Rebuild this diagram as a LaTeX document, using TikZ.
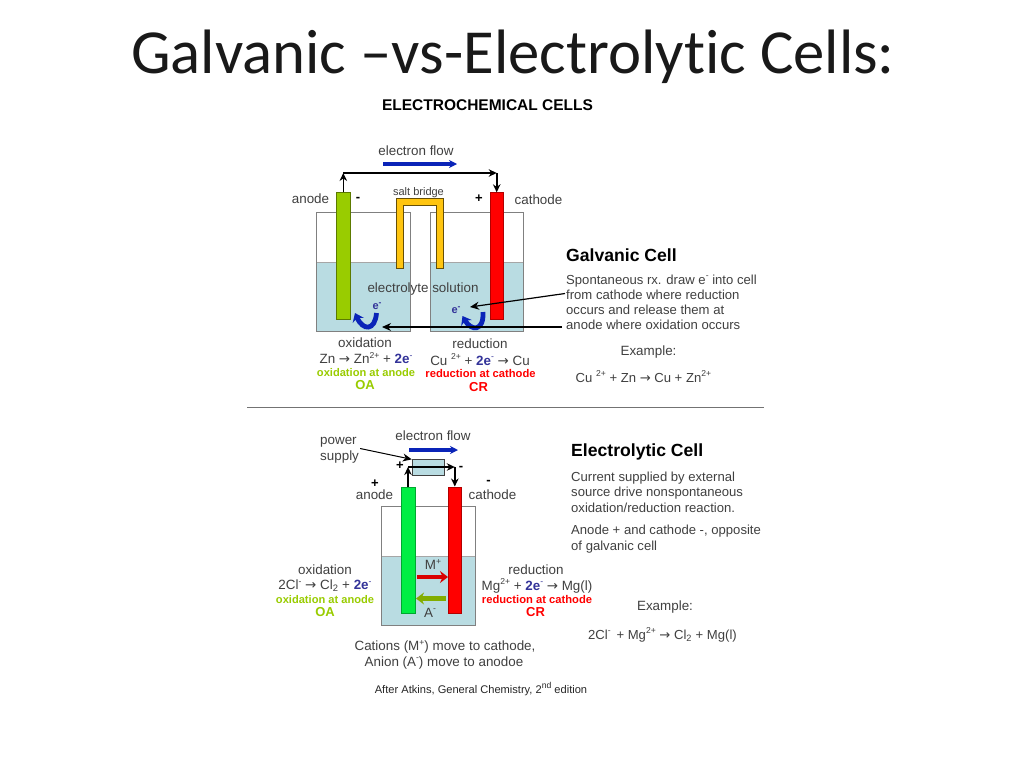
\documentclass[tikz,border=0pt]{standalone}
\usepackage{fontspec}
\setmainfont{Liberation Sans}
\newfontfamily\titlefont[RawFeature={-liga;-dlig;-clig}]{Carlito}
\newfontfamily\arrowfont{DejaVu Sans}
\usetikzlibrary{arrows.meta}
\definecolor{liquid}{HTML}{B9DCE2}
\definecolor{tankedge}{HTML}{808080}
\definecolor{txtgray}{HTML}{404040}
\definecolor{oagreen}{HTML}{99CC00}
\definecolor{rodgreen}{HTML}{00EE44}
\definecolor{goldbar}{HTML}{FFC510}
\definecolor{eblue}{HTML}{333399}
\definecolor{flowblue}{HTML}{0A24B8}
\newcommand{\fs}[1]{\fontsize{#1}{#1}\selectfont}
\newcommand{\up}[1]{\raisebox{0.42em}{\fontsize{8.6}{8.6}\selectfont #1}}
\newcommand{\twoe}{\textcolor{eblue}{\textbf{2e}}\up{\textcolor{eblue}{-}}}
\newcommand{\arr}{{\arrowfont →}}
\tikzset{
  txt/.style={inner sep=0pt,text=txtgray,font=\fs{13.4},align=center},
  para/.style={inner sep=0pt,text=txtgray,font=\fs{13.1},align=left,anchor=west},
  head/.style={inner sep=0pt,text=black,font=\fs{17.6}\bfseries,anchor=west},
  sign/.style={inner sep=0pt,text=black,font=\fs{13}\bfseries},
  oxlab/.style={inner sep=0pt,text=oagreen,font=\fs{11.1}\bfseries},
  redlab/.style={inner sep=0pt,text=red,font=\fs{11.2}\bfseries},
  oxbig/.style={inner sep=0pt,text=oagreen,font=\fs{13}\bfseries},
  redbig/.style={inner sep=0pt,text=red,font=\fs{13}\bfseries},
  elec/.style={inner sep=0pt,text=eblue,font=\fs{11}\bfseries},
  rod/.style={draw=black!55!green,line width=0.5pt,inner sep=0pt,minimum width=13.5pt,minimum height=126.5pt},
  wire/.style={draw=black,line width=1.6pt,-{Stealth[length=8pt,width=7.5pt]}},
  plainline/.style={draw=black,line width=1.2pt,-{Stealth[length=9pt,width=8pt]}},
  flow/.style={draw=flowblue,line width=3.4pt,-{Stealth[length=8pt,width=8pt]}},
  tank/.style={draw=tankedge,line width=1pt},
  curl/.style={draw=flowblue,line width=4.8pt,-{Stealth[length=8pt,width=12pt]}},
  block/.style={line width=4.6pt,-{Stealth[length=8pt,width=12pt]}},
}
\begin{document}
\begin{tikzpicture}[x=1pt,y=-1pt]
\useasboundingbox (0,0) rectangle (1024,768);
\fill[white] (0,0) rectangle (1024,768);

\node[inner sep=0pt,font=\titlefont\fs{62.7},text=black!90] (title) at (513,56.5) {Galvanic –vs-Electrolytic Cells:};
\node[inner sep=0pt,font=\fs{15.5}\bfseries,text=black] (heading) at (487.5,105.5) {ELECTROCHEMICAL CELLS};

% ---- Galvanic tanks
\fill[liquid] (316.7,262) rectangle (410,331);
\fill[liquid] (430,262) rectangle (523.3,331);
\draw[tank,draw=tankedge!70] (316.7,262) -- (410,262) (430,262) -- (523.3,262);
\draw[tank] (316.7,212) rectangle (410,331);
\draw[tank] (430,212) rectangle (523.3,331);

% salt bridge
\path[fill=goldbar,draw=black!60!goldbar,line width=0.5pt]
  (396.3,268) -- (396.3,198.7) -- (443.7,198.7) -- (443.7,268) -- (436.3,268) -- (436.3,205.3) -- (403.5,205.3) -- (403.5,268) -- cycle;

% electrodes
\node[rod,fill=oagreen,draw=black!40!oagreen] (anodeA) at (343.3,255.8) {};
\node[rod,fill=red,draw=red!70!black] (cathodeA) at (496.7,255.8) {};

% wire
\coordinate (cornerLA) at (343.3,173);
\coordinate (cornerRA) at (496.7,173);
\draw[wire] (anodeA.north) -- (cornerLA);
\draw[wire] (cornerLA) -- (cornerRA);
\draw[wire] (cornerRA) -- (cathodeA.north);

% electron flow
\node[txt] (flowA) at (416,150.5) {electron flow};
\coordinate (flowAs) at (383,164);
\coordinate (flowAe) at (457,164);
\draw[flow] (flowAs) -- (flowAe);

\node[txt] (anodeAl) at (310.5,198.5) {anode};
\node[sign] (minusA) at (358,199.5) {-};
\node[txt,font=\fs{11}] (saltl) at (418.5,192.5) {salt bridge};
\node[sign] (plusA) at (479,199) {+};
\node[txt] (cathodeAl) at (538.5,200) {cathode};
\node[txt] (electrolyte) at (423,289) {electrolyte solution};

\node[elec] (eL) at (377,306) {e\up{-}};
\node[elec] (eR) at (456,310) {e\up{-}};

% curved electron arrows
\coordinate (cLs) at (376.5,313);
\coordinate (cLe) at (355,313);
\coordinate (cRs) at (483,312);
\coordinate (cRe) at (462.5,316);
\draw[curl] (cLs) .. controls (375,331) and (363,331) .. (cLe);
\draw[curl] (cRs) .. controls (484,332) and (471,331) .. (cRe);

% text galvanic
\node[txt] (oxA) at (365,342.5) {oxidation};
\node[txt] (eqoxA) at (366,358) {Zn \arr\ Zn\up{2+} + \twoe};
\node[oxlab] (oxatA) at (366,372.5) {oxidation at anode};
\node[oxbig] (oaA) at (365,385.5) {OA};
\node[txt] (redA) at (480,344) {reduction};
\node[txt] (eqredA) at (480,359.5) {Cu \up{2+} + \twoe\ \arr\ Cu};
\node[redlab] (redatA) at (480.5,373.5) {reduction at cathode};
\node[redbig] (crA) at (478.5,387) {CR};

\node[head] (galv) at (566,255) {Galvanic Cell};
\node[para] (galvp1) at (566,281) {Spontaneous rx. draw e\up{-} into cell};
\node[para] (galvp2) at (566,295) {from cathode where reduction};
\node[para] (galvp3) at (566,310) {occurs and release them at};
\node[para] (galvp4) at (566,325) {anode where oxidation occurs};
\node[txt] (exA) at (648.5,352) {Example:};
\node[para] (exeqA) at (575.5,376.5) {Cu \up{2+} + Zn \arr\ Cu + Zn\up{2+}};

\coordinate (ptrA) at (470,307);
\coordinate (ptrB) at (382,327);
\draw[plainline] (galvp2.west) ++(-1,-1.5) -- (ptrA);
\draw[plainline] (galvp4.west) ++(-4,2) -- (ptrB);

% divider
\coordinate (divL) at (247,407.5);
\coordinate (divR) at (764,407.5);
\draw[draw=black!55,line width=0.9pt] (divL) -- (divR);

% ---- Electrolytic
\fill[liquid] (381,556) rectangle (475.7,625);
\draw[tank,draw=tankedge!70] (381,556) -- (475.7,556);
\draw[tank] (381,506) rectangle (475.7,625);
\node[rod,fill=rodgreen,draw=black!30!rodgreen,minimum width=14pt] (anodeB) at (408,550) {};
\node[rod,fill=red,draw=red!70!black] (cathodeB) at (454.8,550) {};
\node[draw=black!75,line width=0.8pt,fill=liquid,inner sep=0pt,minimum width=32.5pt,minimum height=15.5pt] (psu) at (428.4,467.5) {};

\coordinate (cornerLB) at (408,467);
\coordinate (cornerRB) at (454.8,467);
\draw[wire] (anodeB.north) -- (cornerLB);
\draw[wire] (cornerLB) -- (cornerRB);
\draw[wire] (cornerRB) -- (cathodeB.north);

\node[txt] (flowB) at (433,435.5) {electron flow};
\coordinate (flowBs) at (409,450);
\coordinate (flowBe) at (458,450);
\draw[flow] (flowBs) -- (flowBe);

\node[txt,align=left,anchor=west] (psul) at (320,450.5) {power\\[3pt]supply};
\draw[plainline,line width=1pt] (psul.east) ++(1,-2) -- (psu.north west);

\node[sign] (plusB1) at (400,465.5) {+};
\node[sign] (minusB1) at (461,468) {-};
\node[sign] (plusB2) at (375,483.5) {+};
\node[txt] (anodeBl) at (374.5,494.5) {anode};
\node[sign] (minusB2) at (488.5,482.5) {-};
\node[txt] (cathodeBl) at (492.5,495) {cathode};

\coordinate (mS) at (417,577);
\coordinate (mE) at (448,577);
\coordinate (aS) at (446,598.5);
\coordinate (aE) at (416,598.5);
\draw[block,draw=red!85!black] (mS) -- (mE);
\draw[block,draw=oagreen!85!black] (aS) -- (aE);
\node[txt] (mplus) at (433,564.5) {M\up{+}};
\node[txt] (aminus) at (430,613) {A\up{-}};

\node[txt] (oxB) at (325,570) {oxidation};
\node[txt] (eqoxB) at (325,586) {2Cl\up{-} \arr\ Cl\textsubscript{2} + \twoe};
\node[oxlab] (oxatB) at (325,599.5) {oxidation at anode};
\node[oxbig] (oaB) at (325,612.5) {OA};
\node[txt] (redB) at (536,570) {reduction};
\node[txt] (eqredB) at (537,586) {Mg\up{2+} + \twoe\ \arr\ Mg(l)};
\node[redlab] (redatB) at (537,599.5) {reduction at cathode};
\node[redbig] (crB) at (535.5,612.5) {CR};

\node[txt] (cations) at (445,647) {Cations (M\up{+}) move to cathode,};
\node[txt] (anions) at (444,663) {Anion (A\up{-}) move to anodoe};
\node[txt,font=\fs{11.1},text=black!85] (atkins) at (481,689) {After Atkins, General Chemistry, 2\up{nd} edition};

\node[head] (elcell) at (571,452) {Electrolytic Cell};
\node[para] (elp1) at (571,478) {Current supplied by external};
\node[para] (elp2) at (571,493) {source drive nonspontaneous};
\node[para] (elp3) at (571,508) {oxidation/reduction reaction.};
\node[para] (elp4) at (571,531) {Anode + and cathode -, opposite};
\node[para] (elp5) at (571,547) {of galvanic cell};
\node[txt] (exB) at (665,607) {Example:};
\node[para] (exeqB) at (588,635) {2Cl\up{-} \,+ Mg\up{2+} \arr\ Cl\textsubscript{2} + Mg(l)};
\end{tikzpicture}
\end{document}
